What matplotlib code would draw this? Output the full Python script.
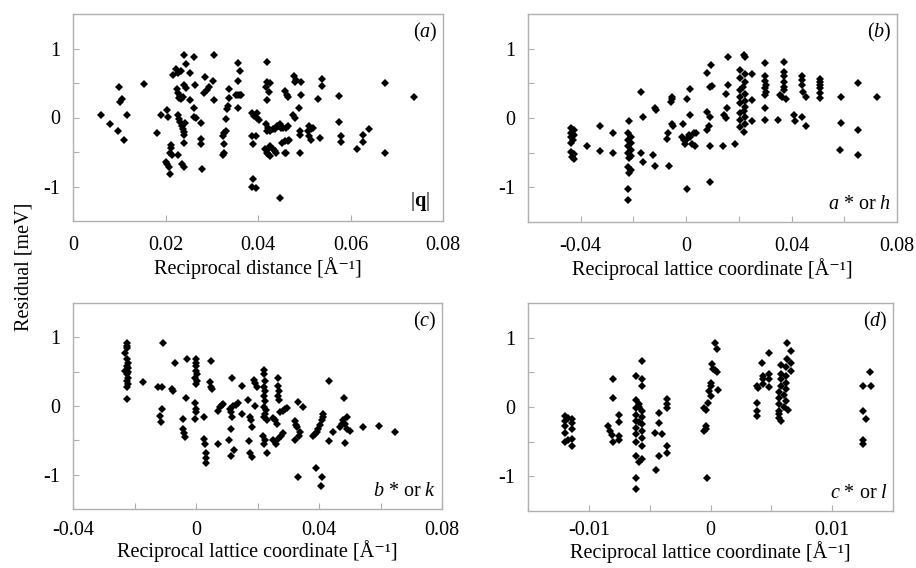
import matplotlib
matplotlib.use("Agg")
import matplotlib.pyplot as plt

plt.rcParams.update(
    {
        "font.family": ["Liberation Serif", "DejaVu Serif"],
        "mathtext.fontset": "custom",
        "mathtext.rm": "Liberation Serif",
        "mathtext.it": "Liberation Serif:italic",
        "mathtext.bf": "Liberation Serif:bold",
        "font.size": 14.5,
    }
)

# (a) residual vs |q|
a_x = [0.0060, 0.0079, 0.0098, 0.0099, 0.0101, 0.0106, 0.0110, 0.0117, 0.0153, 0.0181,
       0.0190, 0.0204, 0.0206, 0.0200, 0.0203, 0.0207, 0.0209, 0.0212, 0.0212, 0.0210,
       0.0214, 0.0217, 0.0223, 0.0228, 0.0233, 0.0225, 0.0228, 0.0231, 0.0234, 0.0237,
       0.0229, 0.0241, 0.0245, 0.0244, 0.0241, 0.0226, 0.0229, 0.0232, 0.0235, 0.0237,
       0.0239, 0.0240, 0.0242, 0.0227, 0.0236, 0.0240, 0.0240, 0.0254, 0.0254, 0.0263,
       0.0262, 0.0262, 0.0262, 0.0265, 0.0277, 0.0277, 0.0277, 0.0278, 0.0283, 0.0285,
       0.0290, 0.0294, 0.0303, 0.0305, 0.0304, 0.0324, 0.0327, 0.0330, 0.0326, 0.0326,
       0.0325, 0.0331, 0.0334, 0.0336, 0.0337, 0.0337, 0.0352, 0.0356, 0.0360, 0.0364,
       0.0357, 0.0362, 0.0357, 0.0357, 0.0388, 0.0397, 0.0391, 0.0398, 0.0402, 0.0386,
       0.0395, 0.0390, 0.0389, 0.0386, 0.0396, 0.0419, 0.0419, 0.0425, 0.0418, 0.0424,
       0.0419, 0.0417, 0.0422, 0.0425, 0.0420, 0.0433, 0.0436, 0.0440, 0.0443, 0.0447,
       0.0450, 0.0416, 0.0419, 0.0422, 0.0426, 0.0423, 0.0425, 0.0432, 0.0436, 0.0439,
       0.0447, 0.0455, 0.0461, 0.0465, 0.0452, 0.0458, 0.0465, 0.0468, 0.0458, 0.0461,
       0.0458, 0.0463, 0.0465, 0.0478, 0.0480, 0.0483, 0.0476, 0.0480, 0.0488, 0.0494,
       0.0494, 0.0490, 0.0491, 0.0490, 0.0511, 0.0515, 0.0519, 0.0508, 0.0515, 0.0511,
       0.0530, 0.0538, 0.0538, 0.0535, 0.0576, 0.0576, 0.0580, 0.0580, 0.0613, 0.0627,
       0.0627, 0.0640, 0.0675, 0.0675, 0.0737]
a_y = [0.04, -0.10, -0.20, 0.44, 0.22, 0.27, -0.33, 0.03, 0.49, -0.22,
       0.03, 0.11, 0.01, -0.64, -0.68, -0.72, -0.82, -0.40, -0.44, -0.51,
       -0.55, 0.61, 0.71, 0.65, 0.67, 0.42, 0.36, 0.31, 0.27, 0.29,
       0.28, 0.91, 0.78, 0.43, 0.47, 0.04, -0.02, -0.06, -0.12, -0.16,
       -0.21, -0.25, -0.08, -0.55, -0.68, -0.72, -0.37, 0.64, 0.26, 0.47,
       0.88, 0.14, 0.01, -0.01, -0.08, -0.31, -0.39, -0.74, 0.35, 0.59,
       0.40, 0.44, 0.53, 0.91, 0.26, -0.27, -0.23, -0.20, -0.39, -0.52,
       -0.55, -0.02, 0.13, 0.17, 0.41, 0.28, 0.33, 0.33, 0.33, 0.33,
       0.79, 0.67, 0.53, 0.14, 0.07, 0.07, 0.02, -0.01, -0.04, -0.27,
       -0.27, -0.39, -0.89, -1.00, -1.02, 0.81, 0.52, 0.50, 0.44, 0.37,
       0.26, -0.10, -0.15, -0.19, -0.20, -0.17, -0.16, -0.13, -0.12, -0.10,
       -0.15, -0.46, -0.51, -0.53, -0.56, -0.44, -0.41, -0.46, -0.48, -0.51,
       -1.17, -0.15, -0.15, -0.12, -0.37, -0.34, -0.34, -0.33, -0.51, -0.51,
       0.39, 0.32, 0.30, 0.60, 0.52, 0.55, 0.03, 0.00, 0.14, 0.52,
       0.32, -0.20, -0.25, -0.52, -0.13, -0.17, -0.15, -0.20, -0.32, -0.27,
       0.27, 0.56, 0.45, -0.29, 0.31, -0.07, -0.27, -0.36, -0.45, -0.36,
       -0.25, -0.17, 0.50, -0.52, 0.30]

# (b) residual vs a* (h)
b_x = [-0.0435, -0.0425, -0.0435, -0.0425, -0.0435, -0.0428, -0.0435, -0.0435, -0.0425, -0.0432,
       -0.0425, -0.0378, -0.0328, -0.0328, -0.0277, -0.0277, -0.0215, -0.0222, -0.0210, -0.0222,
       -0.0210, -0.0222, -0.0210, -0.0222, -0.0210, -0.0218, -0.0222, -0.0210, -0.0215, -0.0222,
       -0.0222, -0.0173, -0.0163, -0.0173, -0.0163, -0.0124, -0.0118, -0.0120, -0.0114, -0.0074,
       -0.0067, -0.0064, -0.0055, -0.0050, -0.0058, -0.0053, -0.0052, -0.0013, -0.0016, -0.0010,
       -0.0004, 0.0003, 0.0009, 0.0015, 0.0022, 0.0034, 0.0028, 0.0003, 0.0015, 0.0015,
       0.0003, 0.0037, 0.0081, 0.0094, 0.0091, 0.0097, 0.0081, 0.0085, 0.0081, 0.0091,
       0.0091, 0.0091, 0.0140, 0.0145, 0.0152, 0.0155, 0.0157, 0.0157, 0.0152, 0.0184,
       0.0220, 0.0225, 0.0206, 0.0222, 0.0206, 0.0222, 0.0206, 0.0222, 0.0206, 0.0222,
       0.0206, 0.0222, 0.0206, 0.0222, 0.0206, 0.0222, 0.0206, 0.0218, 0.0214, 0.0218,
       0.0250, 0.0250, 0.0250, 0.0298, 0.0300, 0.0300, 0.0304, 0.0300, 0.0304, 0.0298,
       0.0298, 0.0298, 0.0348, 0.0371, 0.0371, 0.0371, 0.0371, 0.0371, 0.0371, 0.0356,
       0.0365, 0.0378, 0.0410, 0.0413, 0.0440, 0.0440, 0.0440, 0.0444, 0.0455, 0.0440,
       0.0455, 0.0508, 0.0508, 0.0508, 0.0508, 0.0508, 0.0508, 0.0587, 0.0587, 0.0584,
       0.0653, 0.0653, 0.0653, 0.0724]
b_y = [-0.14, -0.17, -0.21, -0.24, -0.28, -0.32, -0.36, -0.49, -0.52, -0.56,
       -0.59, -0.41, -0.11, -0.47, -0.22, -0.50, -0.05, -0.22, -0.27, -0.32,
       -0.36, -0.41, -0.46, -0.51, -0.55, -0.58, -0.70, -0.75, -0.80, -1.02,
       -1.18, 0.37, 0.01, -0.51, -0.64, -0.53, -0.69, 0.14, 0.11, -0.31,
       -0.22, -0.69, -0.08, -0.12, 0.23, 0.31, 0.28, -0.08, -0.27, -0.32,
       -0.37, -0.30, -0.25, -0.27, -0.37, -0.40, -0.22, 0.27, 0.42, 0.04,
       -1.03, -0.22, 0.65, 0.77, 0.44, 0.46, 0.09, -0.12, -0.17, 0.02,
       -0.40, -0.92, -0.40, 0.04, 0.00, 0.15, 0.88, 0.48, 0.34, -0.37,
       0.91, 0.88, 0.69, 0.64, 0.57, 0.52, 0.40, 0.35, 0.30, 0.25,
       0.21, 0.16, 0.07, 0.02, -0.03, -0.08, -0.13, -0.20, 0.45, 0.10,
       0.63, 0.26, -0.04, 0.79, 0.60, 0.53, 0.48, 0.43, 0.38, 0.33,
       0.14, -0.03, -0.03, 0.81, 0.67, 0.60, 0.52, 0.45, 0.40, 0.33,
       0.30, 0.28, 0.04, -0.04, 0.60, 0.55, 0.48, 0.38, 0.30, 0.02,
       -0.12, 0.56, 0.52, 0.48, 0.43, 0.36, 0.29, 0.31, -0.07, -0.46,
       0.50, -0.18, -0.53, 0.30]

# (c) residual vs b* (k)
c_x = [-0.0226, -0.0226, -0.0226, -0.0230, -0.0226, -0.0222, -0.0226, -0.0222, -0.0230, -0.0222,
       -0.0226, -0.0222, -0.0226, -0.0222, -0.0226, -0.0226, -0.0173, -0.0122, -0.0111, -0.0106,
       -0.0111, -0.0117, -0.0115, -0.0068, -0.0074, -0.0077, -0.0043, -0.0041, -0.0039, -0.0036,
       -0.0030, -0.0033, 0.0000, 0.0000, 0.0000, 0.0000, 0.0003, -0.0003, 0.0002, 0.0000,
       -0.0003, 0.0000, 0.0000, -0.0003, 0.0026, 0.0026, 0.0029, 0.0033, 0.0033, 0.0033,
       0.0048, 0.0046, 0.0048, 0.0051, 0.0070, 0.0078, 0.0085, 0.0089, 0.0073, 0.0111,
       0.0113, 0.0116, 0.0113, 0.0108, 0.0113, 0.0116, 0.0121, 0.0130, 0.0138, 0.0124,
       0.0148, 0.0148, 0.0170, 0.0176, 0.0178, 0.0181, 0.0173, 0.0176, 0.0181, 0.0189,
       0.0192, 0.0192, 0.0197, 0.0221, 0.0221, 0.0224, 0.0221, 0.0224, 0.0221, 0.0224,
       0.0221, 0.0228, 0.0224, 0.0221, 0.0230, 0.0219, 0.0224, 0.0221, 0.0232, 0.0252,
       0.0257, 0.0263, 0.0252, 0.0260, 0.0268, 0.0268, 0.0268, 0.0271, 0.0268, 0.0271,
       0.0273, 0.0282, 0.0289, 0.0295, 0.0275, 0.0282, 0.0322, 0.0325, 0.0330, 0.0322,
       0.0333, 0.0338, 0.0336, 0.0333, 0.0349, 0.0381, 0.0387, 0.0392, 0.0398, 0.0403,
       0.0409, 0.0414, 0.0414, 0.0390, 0.0409, 0.0405, 0.0434, 0.0434, 0.0447, 0.0468,
       0.0474, 0.0479, 0.0490, 0.0485, 0.0490, 0.0501, 0.0481, 0.0485, 0.0542, 0.0596,
       0.0647]
c_y = [0.92, 0.88, 0.85, 0.77, 0.68, 0.63, 0.58, 0.55, 0.51, 0.49,
       0.46, 0.41, 0.37, 0.32, 0.27, 0.10, 0.35, 0.27, 0.27, 0.92,
       -0.04, -0.14, -0.24, 0.63, 0.22, 0.25, -0.19, -0.33, -0.40, -0.45,
       0.69, 0.12, 0.68, 0.63, 0.58, 0.51, 0.46, 0.41, 0.37, 0.32,
       0.04, -0.04, -0.09, -0.19, -0.16, -0.48, -0.55, -0.69, -0.76, -0.83,
       0.65, 0.35, 0.28, 0.25, -0.08, -0.02, 0.01, 0.03, -0.56, -0.04,
       -0.09, -0.16, -0.34, -0.49, -0.73, 0.41, 0.00, 0.02, 0.04, -0.64,
       0.29, -0.12, 0.09, -0.16, -0.21, -0.31, -0.51, -0.69, -0.74, 0.38,
       0.34, 0.00, 0.28, 0.53, 0.46, 0.36, 0.27, 0.22, 0.15, 0.08,
       -0.02, -0.06, -0.12, -0.16, -0.21, -0.43, -0.50, -0.55, -0.69, -0.17,
       -0.21, -0.26, -0.50, -0.55, -0.48, 0.41, 0.29, 0.22, 0.15, 0.09,
       -0.09, -0.07, -0.04, -0.03, -0.43, -0.39, -0.22, -0.27, -0.31, -0.50,
       0.06, -0.38, -0.43, -1.03, -0.02, -0.43, -0.41, -0.38, -0.33, -0.28,
       -0.21, -0.11, -0.16, -0.91, -1.03, -1.17, 0.37, -0.51, -0.38, -0.31,
       -0.26, -0.21, -0.16, -0.26, -0.33, -0.36, 0.12, -0.54, -0.31, -0.29,
       -0.38]

# (d) residual vs c* (l)
d_x = [-0.0120, -0.0114, -0.0120, -0.0114, -0.0120, -0.0114, -0.0120, -0.0114, -0.0120, -0.0114,
       -0.0117, -0.0117, -0.0080, -0.0080, -0.0084, -0.0083, -0.0081, -0.0080, -0.0075, -0.0075,
       -0.0075, -0.0075, -0.0056, -0.0061, -0.0056, -0.0056, -0.0061, -0.0059, -0.0061, -0.0056,
       -0.0061, -0.0056, -0.0061, -0.0056, -0.0061, -0.0056, -0.0061, -0.0056, -0.0061, -0.0056,
       -0.0061, -0.0056, -0.0059, -0.0061, -0.0061, -0.0059, -0.0059, -0.0046, -0.0045, -0.0042,
       -0.0042, -0.0042, -0.0036, -0.0036, -0.0036, -0.0036, -0.0036, -0.0040, -0.0005, -0.0004,
       -0.0004, -0.0004, -0.0005, -0.0003, -0.0002, -0.0001, 0.0000, 0.0000, 0.0001, 0.0002,
       0.0004, 0.0005, 0.0005, 0.0004, 0.0006, 0.0000, 0.0038, 0.0039, 0.0038, 0.0038,
       0.0038, 0.0042, 0.0043, 0.0043, 0.0043, 0.0048, 0.0048, 0.0048, 0.0048, 0.0063,
       0.0066, 0.0063, 0.0066, 0.0058, 0.0062, 0.0066, 0.0058, 0.0062, 0.0058, 0.0062,
       0.0058, 0.0062, 0.0056, 0.0060, 0.0056, 0.0062, 0.0056, 0.0060, 0.0056, 0.0064,
       0.0056, 0.0056, 0.0058, 0.0131, 0.0125, 0.0132, 0.0125, 0.0128, 0.0125, 0.0125]
d_y = [-0.13, -0.17, -0.20, -0.23, -0.27, -0.32, -0.37, -0.46, -0.51, -0.56,
       -0.16, -0.48, 0.40, 0.13, -0.27, -0.35, -0.40, -0.51, -0.11, -0.22,
       -0.42, -0.47, 0.66, 0.44, 0.40, 0.31, 0.10, 0.04, -0.01, -0.06,
       -0.11, -0.15, -0.20, -0.25, -0.30, -0.35, -0.39, -0.44, -0.51, -0.56,
       -0.71, -0.75, -0.80, -1.02, -1.18, -0.22, 0.00, -0.37, -0.91, -0.23,
       -0.08, -0.70, 0.12, 0.05, -0.02, -0.56, -0.66, -0.39, -0.01, -0.04,
       -0.27, -0.32, -0.35, -1.02, 0.06, 0.23, 0.30, 0.35, 0.62, 0.55,
       0.53, 0.50, 0.84, 0.92, 0.25, 0.16, 0.30, 0.28, 0.06, -0.06,
       -0.13, 0.64, 0.45, 0.40, 0.33, 0.78, 0.47, 0.40, 0.29, 0.93,
       0.81, 0.69, 0.64, 0.60, 0.57, 0.52, 0.48, 0.45, 0.40, 0.35,
       0.30, 0.26, 0.22, 0.18, 0.13, 0.09, 0.04, 0.00, -0.06, -0.05,
       -0.10, -0.16, -0.20, 0.50, 0.31, 0.30, -0.06, -0.18, -0.47, -0.53]

y_ticks = [-1, -0.5, 0, 0.5, 1]
y_ticklabels = ["-1", "", "0", "", "1"]

W, H = 916, 568
GRAY = "#b0b0b0"


def rect(left, top, right, bottom):
    return [left / W, 1 - bottom / H, (right - left) / W, (bottom - top) / H]


fig = plt.figure(figsize=(W / 100, H / 100), dpi=100)


def panel(box, x, y, xlim, xticks, xticklabels, xlabel, tag, note,
          note_x=0.985, tick_pad=11, label_pad=1):
    ax = fig.add_axes(rect(*box))
    ax.plot(x, y, "D", color="black", ms=4.1, mew=0)
    ax.set_xlim(*xlim)
    ax.set_ylim(-1.5, 1.5)
    ax.set_xticks(xticks)
    ax.set_xticklabels(xticklabels)
    ax.set_yticks(y_ticks)
    ax.set_yticklabels(y_ticklabels)
    for s in ax.spines.values():
        s.set_color(GRAY)
        s.set_linewidth(1.0)
    ax.tick_params(direction="in", length=4, width=0.8, color=GRAY,
                   labelsize=14.5)
    ax.tick_params(axis="x", pad=tick_pad)
    ax.tick_params(axis="y", pad=9)
    ax.set_xlabel(xlabel, fontsize=14.5, labelpad=label_pad)
    ax.text(0.985, 0.965, tag, transform=ax.transAxes, ha="right", va="top",
            fontsize=14.5)
    ax.text(note_x, 0.04, note, transform=ax.transAxes, ha="right",
            va="bottom", fontsize=14.5)
    return ax


lattice = "Reciprocal lattice coordinate [Å\u207b\u00b9]"

panel((73, 14, 443, 221), a_x, a_y, (0, 0.08),
      [0, 0.02, 0.04, 0.06, 0.08], ["0", "0.02", "0.04", "0.06", "0.08"],
      "Reciprocal distance [Å\u207b\u00b9]", r"($a$)",
      r"|$\mathbf{q}$|", note_x=0.965, tick_pad=11, label_pad=1)
panel((528, 14, 897, 222), b_x, b_y, (-0.06, 0.08),
      [-0.06, -0.04, -0.02, 0, 0.02, 0.04, 0.06, 0.08],
      ["", "-0.04", "", "0", "", "0.04", "", "0.08"],
      lattice, r"($b$)", r"$a$ * or $h$", tick_pad=11, label_pad=1)
panel((73, 303, 442, 509), c_x, c_y, (-0.04, 0.08),
      [-0.04, -0.02, 0, 0.02, 0.04, 0.06, 0.08],
      ["-0.04", "", "0", "", "0.04", "", "0.08"],
      lattice, r"($c$)", r"$b$ * or $k$", tick_pad=8.5, label_pad=0.5)
panel((528, 303, 893, 511), d_x, d_y, (-0.015, 0.015),
      [-0.015, -0.01, -0.005, 0, 0.005, 0.01, 0.015],
      ["", "-0.01", "", "0", "", "0.01", ""],
      lattice, r"($d$)", r"$c$ * or $l$", tick_pad=7.5, label_pad=0.5)

fig.text(0.026, 0.53, "Residual [meV]", rotation=90, ha="center",
         va="center", fontsize=14.5)

fig.savefig("out.png", dpi=100)
